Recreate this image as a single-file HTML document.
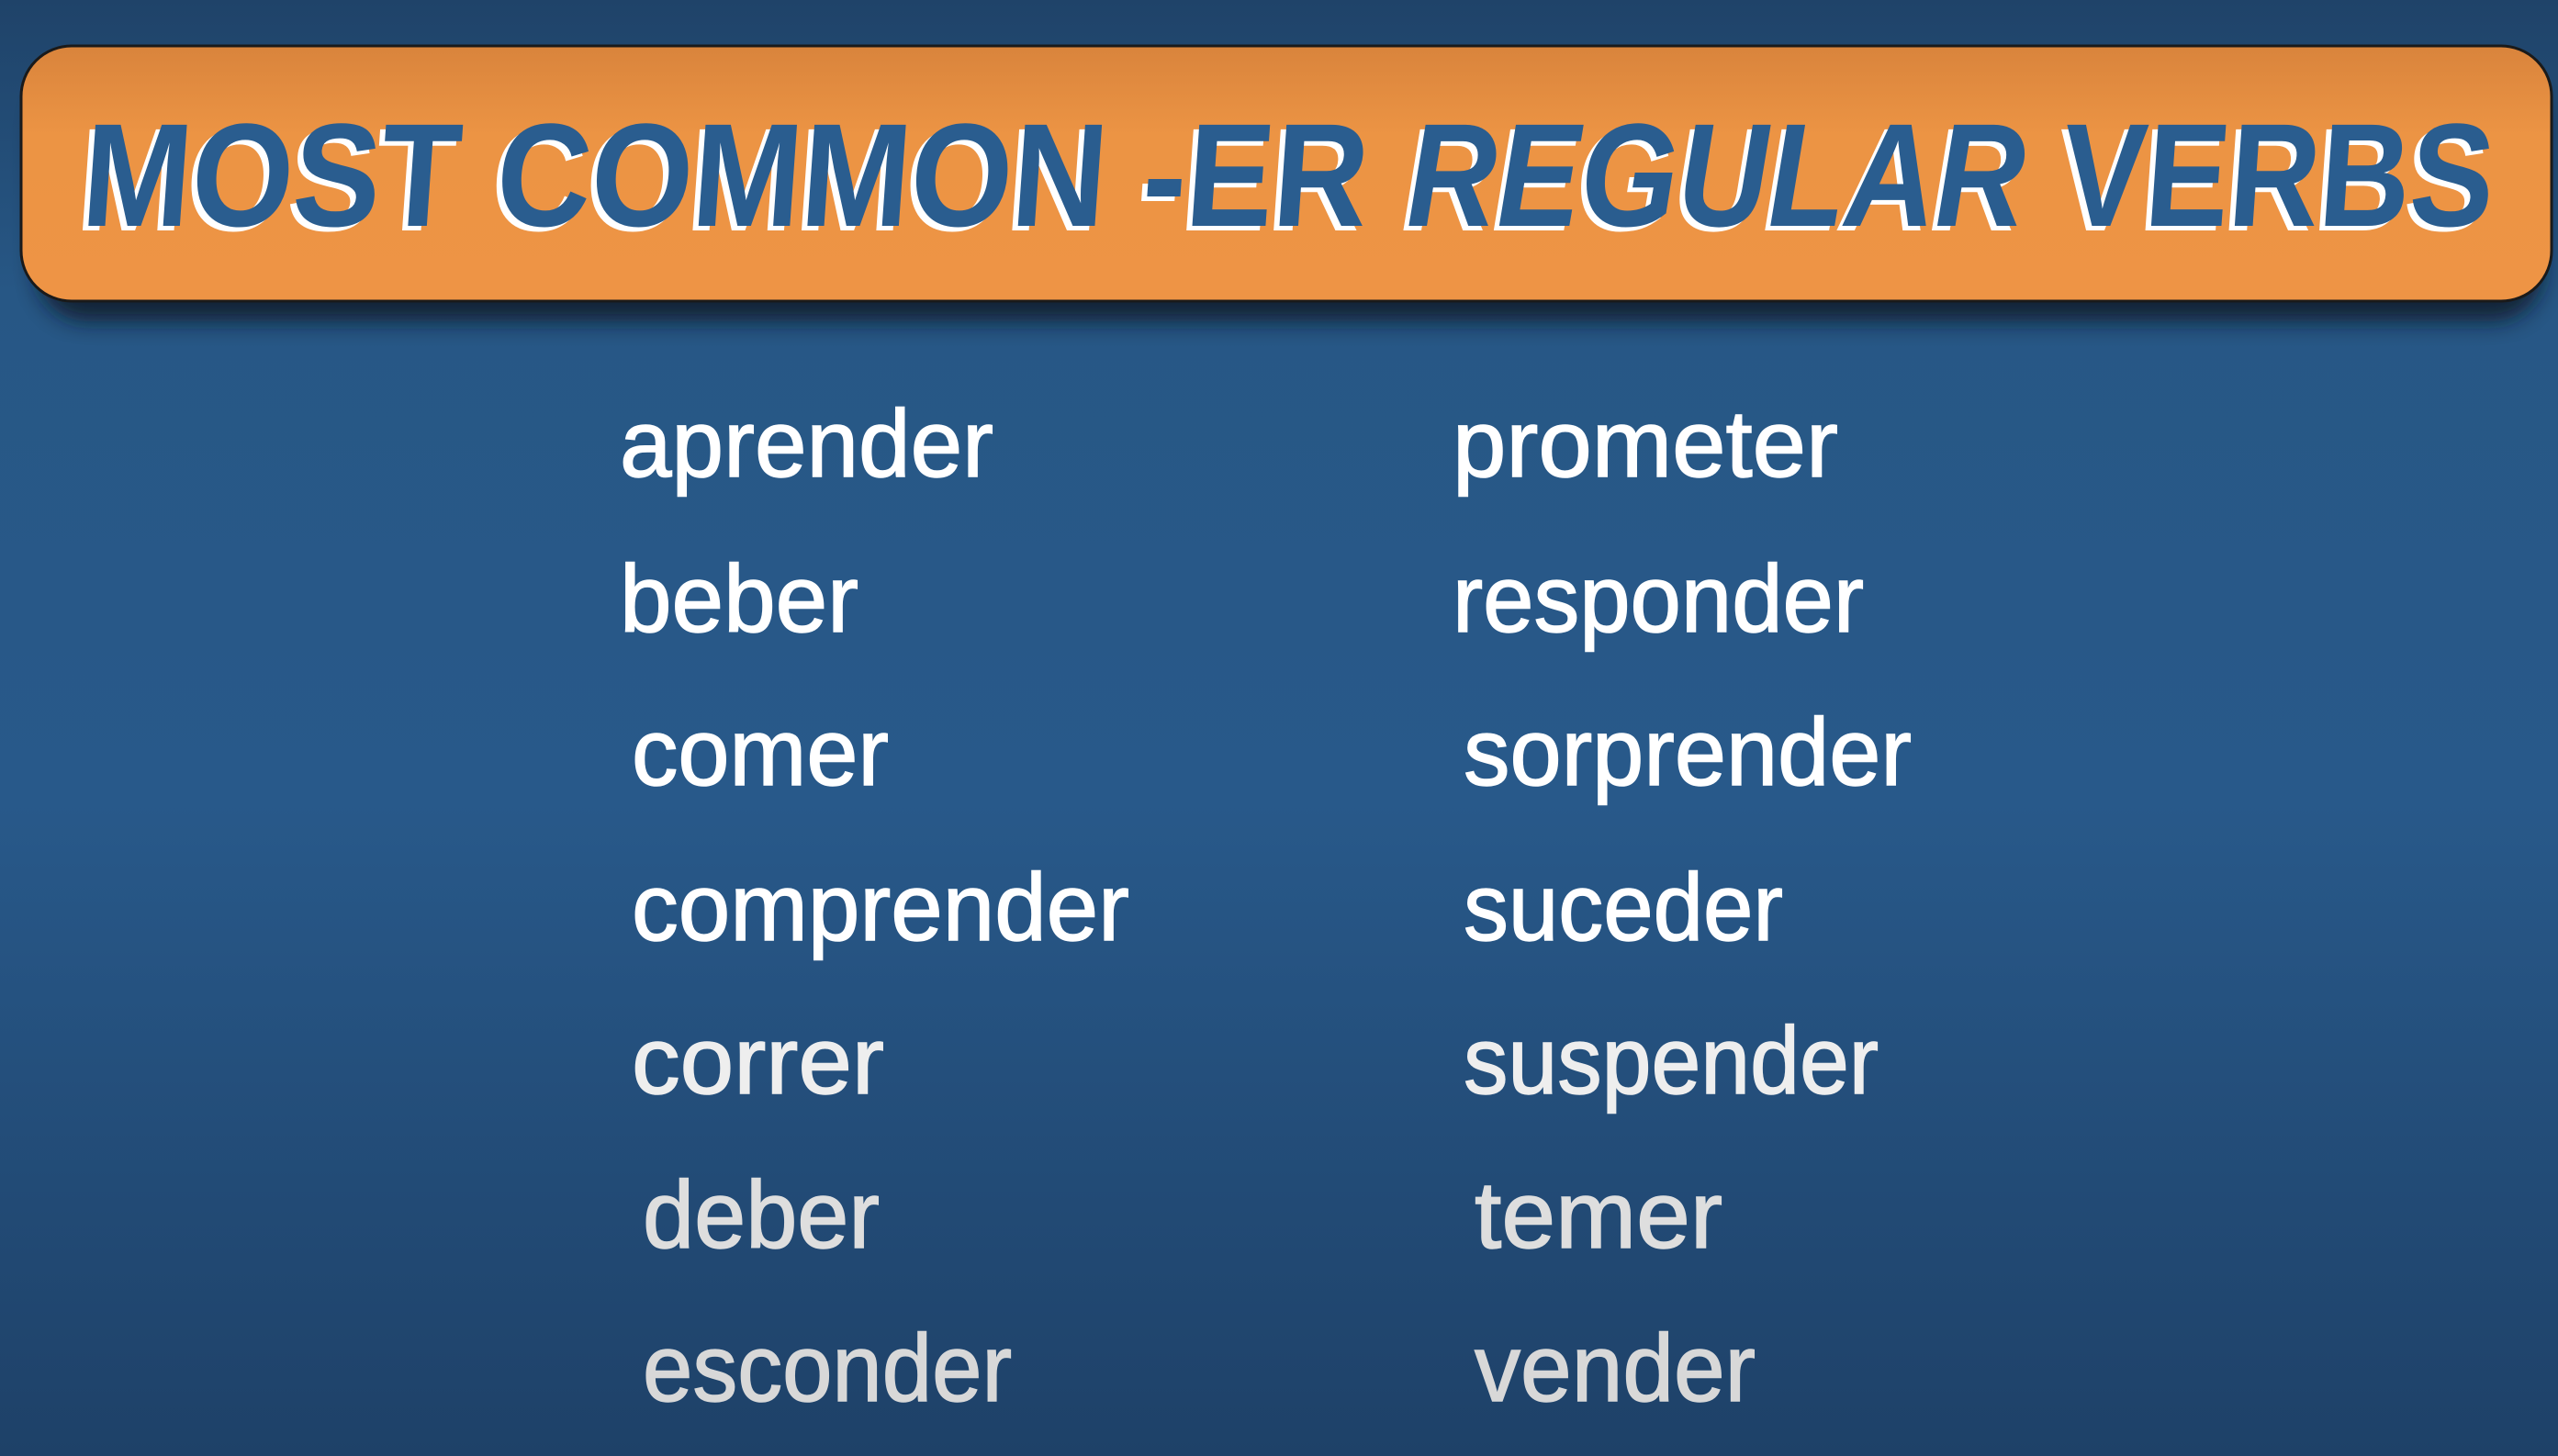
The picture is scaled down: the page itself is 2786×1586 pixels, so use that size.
<!DOCTYPE html>
<html><head><meta charset="utf-8"><style>
html,body{margin:0;padding:0;width:2786px;height:1586px;overflow:hidden;background:#24507c}
svg{display:block}
</style></head><body>
<svg width="2786" height="1586" viewBox="0 0 2786 1586" xmlns="http://www.w3.org/2000/svg">
<defs>
<linearGradient id="bg" x1="0" y1="0" x2="0" y2="1">
<stop offset="0" stop-color="#1f4369"/>
<stop offset="0.2" stop-color="#275785"/>
<stop offset="0.55" stop-color="#28598a"/>
<stop offset="1" stop-color="#1e4168"/>
</linearGradient>
<linearGradient id="bar" x1="0" y1="0" x2="0" y2="1">
<stop offset="0" stop-color="#d9843c"/>
<stop offset="0.35" stop-color="#ec9444"/>
<stop offset="1" stop-color="#ee9445"/>
</linearGradient>
<filter id="sh" x="-5%" y="-20%" width="110%" height="160%"><feGaussianBlur stdDeviation="12"/></filter>
</defs>
<rect width="2786" height="1586" fill="url(#bg)"/>
<rect x="40" y="80" width="2730" height="270" rx="55" fill="#0a1524" opacity="0.8" filter="url(#sh)"/>
<rect x="23" y="50" width="2756" height="278" rx="55" fill="url(#bar)" stroke="#1a1a1a" stroke-width="3"/>
<g font-family="Liberation Sans, sans-serif" font-weight="bold" font-size="160">
<g transform="translate(17,0) skewX(-4)">
<text x="81" y="251" fill="#ffffff" textLength="1400" lengthAdjust="spacingAndGlyphs">MOST COMMON -ER</text>
<text x="87" y="246" fill="#2a5d8f" textLength="1400" lengthAdjust="spacingAndGlyphs">MOST COMMON -ER</text>
<text x="2237" y="251" fill="#ffffff" textLength="470" lengthAdjust="spacingAndGlyphs">VERBS</text>
<text x="2243" y="246" fill="#2a5d8f" textLength="470" lengthAdjust="spacingAndGlyphs">VERBS</text>
</g>
<text x="1526" y="251" fill="#ffffff" font-style="italic" textLength="674" lengthAdjust="spacingAndGlyphs">REGULAR</text>
<text x="1532" y="246" fill="#2a5d8f" font-style="italic" textLength="674" lengthAdjust="spacingAndGlyphs">REGULAR</text>
</g>
<g font-family="Liberation Sans, sans-serif" font-size="104" fill="#ffffff" stroke="#ffffff" stroke-width="1.5">
<text x="675" y="519" textLength="407" lengthAdjust="spacingAndGlyphs">aprender</text>
<text x="675" y="688" textLength="260" lengthAdjust="spacingAndGlyphs">beber</text>
<text x="688" y="855" textLength="280" lengthAdjust="spacingAndGlyphs">comer</text>
<text x="688" y="1024" textLength="542" lengthAdjust="spacingAndGlyphs">comprender</text>
<text x="688" y="1191" fill="#eeeeee" stroke="#eeeeee" textLength="275" lengthAdjust="spacingAndGlyphs">correr</text>
<text x="700" y="1359" fill="#dedede" stroke="#dedede" textLength="258" lengthAdjust="spacingAndGlyphs">deber</text>
<text x="700" y="1526" fill="#d8d8d8" stroke="#d8d8d8" textLength="402" lengthAdjust="spacingAndGlyphs">esconder</text>
<text x="1582" y="519" textLength="420" lengthAdjust="spacingAndGlyphs">prometer</text>
<text x="1582" y="688" textLength="448" lengthAdjust="spacingAndGlyphs">responder</text>
<text x="1594" y="855" textLength="488" lengthAdjust="spacingAndGlyphs">sorprender</text>
<text x="1594" y="1024" textLength="348" lengthAdjust="spacingAndGlyphs">suceder</text>
<text x="1594" y="1191" fill="#eeeeee" stroke="#eeeeee" textLength="452" lengthAdjust="spacingAndGlyphs">suspender</text>
<text x="1606" y="1359" fill="#dedede" stroke="#dedede" textLength="270" lengthAdjust="spacingAndGlyphs">temer</text>
<text x="1606" y="1526" fill="#d8d8d8" stroke="#d8d8d8" textLength="306" lengthAdjust="spacingAndGlyphs">vender</text>
</g>
</svg>
</body></html>
